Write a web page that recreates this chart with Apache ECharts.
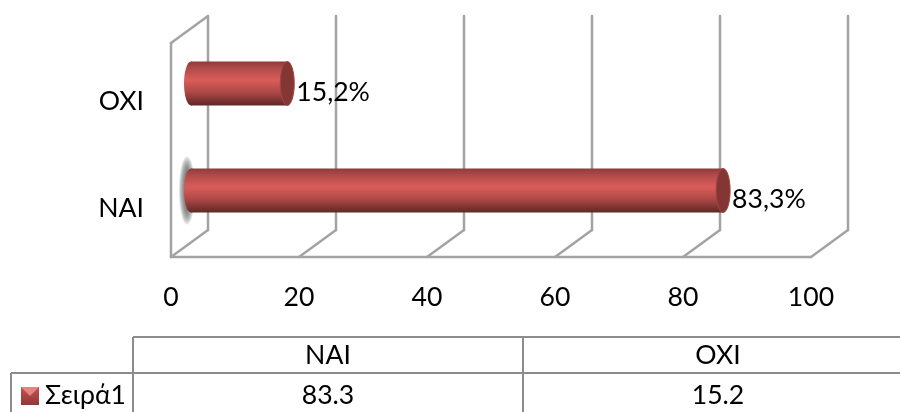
<!DOCTYPE html>
<html>
<head>
<meta charset="utf-8">
<style>
    html, body { margin: 0; padding: 0; background: #fff; }
    #main { width: 900px; height: 412px; }
</style>
<script src="https://cdn.jsdelivr.net/npm/echarts@6/dist/echarts.min.js"></script>
</head>
<body>
<div id="main"></div>
<script type="text/javascript">
    var categories = ['ΝΑΙ', 'ΟΧΙ'];
    var values = [83.3, 15.2];
    var labels = ['83,3%', '15,2%'];
    var xTicks = [0, 20, 40, 60, 80, 100];
    var seriesName = 'Σειρά1';

    var FONT = 'Lato, "Noto Sans", sans-serif';
    var FONT_SIZE = 26.6;
    var WALL = '#a3a3a3';
    var TABLE = '#8c8c8c';
    // 3d depth of the box, and how far the bars sit inside it
    var DEPTH_X = 37, DEPTH_Y = -27;
    var BAR_X = 18, BAR_Y = -13, BAR_H = 44;

    var barFill = new echarts.graphic.LinearGradient(0, 0, 0, 1, [
        { offset: 0, color: '#8b3b39' },
        { offset: 0.15, color: '#b04a48' },
        { offset: 0.42, color: '#d95d5a' },
        { offset: 0.7, color: '#ad4846' },
        { offset: 1, color: '#5f2726' }
    ]);

    function line(x1, y1, x2, y2) {
        return {
            type: 'line',
            shape: { x1: x1, y1: y1, x2: x2, y2: y2 },
            style: { stroke: WALL, lineWidth: 2.5, lineCap: 'round' }
        };
    }

    function renderWall(params, api) {
        var cs = params.coordSys;
        var x = api.coord([api.value(0), 0])[0];
        var top = cs.y, bottom = cs.y + cs.height;
        var children = [
            line(x, bottom, x + DEPTH_X, bottom + DEPTH_Y),
            line(x + DEPTH_X, bottom + DEPTH_Y, x + DEPTH_X, top + DEPTH_Y)
        ];
        if (params.dataIndex === 0) {
            children.push(line(x, bottom, x, top));
            children.push(line(x, top, x + DEPTH_X, top + DEPTH_Y));
            children.push(line(x, bottom, cs.x + cs.width, bottom));
        }
        return { type: 'group', children: children };
    }

    function renderBar(params, api) {
        var end = api.coord([api.value(0), api.value(1)]);
        var start = api.coord([0, api.value(1)]);
        var x0 = start[0] + BAR_X + 2;
        var x1 = end[0] + BAR_X + 1;
        var y = end[1] + BAR_Y;
        var children = [];
        if (params.dataIndex === 0) {
            // grey smudge behind the left end of the long bar, stacked ellipses fake the blur
            for (var k = 0; k < 8; k++) {
                children.push({
                    type: 'ellipse',
                    shape: { cx: x0 - 4, cy: y, rx: 8 - k * 0.8, ry: 34 - k * 2 },
                    style: { fill: 'rgba(90,90,90,0.16)' }
                });
            }
        }
        children.push({
            type: 'ellipse',
            shape: { cx: x0, cy: y, rx: 7, ry: BAR_H / 2 },
            style: { fill: barFill }
        });
        children.push({
            type: 'rect',
            shape: { x: x0, y: y - BAR_H / 2, width: x1 - x0, height: BAR_H },
            style: { fill: barFill }
        });
        children.push({
            type: 'ellipse',
            shape: { cx: x1, cy: y, rx: 7, ry: BAR_H / 2 },
            style: { fill: '#843635', stroke: '#a04644', lineWidth: 1 }
        });
        children.push({
            type: 'text',
            style: {
                x: x1 + 9, y: y + 9,
                text: labels[params.dataIndex],
                font: FONT_SIZE + 'px ' + FONT,
                fill: '#000',
                verticalAlign: 'middle'
            }
        });
        return { type: 'group', children: children };
    }

    // data table under the chart
    var TABLE_LEFT = 133, COL_W = 390, ROW1 = 337, ROW2 = 373, ROW3 = 413, LEGEND_LEFT = 11;

    function tableLine(x1, y1, x2, y2) {
        return {
            type: 'line',
            shape: { x1: x1, y1: y1, x2: x2, y2: y2 },
            style: { stroke: TABLE, lineWidth: 2 }
        };
    }

    function tableText(x, y, text, align) {
        return {
            type: 'text',
            style: {
                x: x, y: y, text: text,
                font: FONT_SIZE + 'px ' + FONT, fill: '#000',
                align: align || 'center', verticalAlign: 'middle'
            }
        };
    }

    var tableItems = [
        tableLine(TABLE_LEFT, ROW1, 900, ROW1),
        tableLine(LEGEND_LEFT, ROW2, 900, ROW2),
        tableLine(LEGEND_LEFT, ROW2, LEGEND_LEFT, ROW3),
        tableLine(TABLE_LEFT, ROW1, TABLE_LEFT, ROW3),
        {
            type: 'rect',
            shape: { x: 21, y: 387, width: 18, height: 18 },
            style: {
                fill: new echarts.graphic.LinearGradient(0, 0, 0, 1, [
                    { offset: 0, color: '#c9504e' },
                    { offset: 1, color: '#8b3b39' }
                ])
            }
        },
        {
            type: 'polygon',
            shape: { points: [[21, 387], [39, 387], [30, 396]] },
            style: { fill: '#e58480' }
        },
        tableText(45, 395, seriesName, 'left')
    ];
    categories.forEach(function (name, i) {
        var cx = TABLE_LEFT + COL_W * i + COL_W / 2;
        if (i > 0) {
            tableItems.push(tableLine(TABLE_LEFT + COL_W * i, ROW1, TABLE_LEFT + COL_W * i, ROW3));
        }
        tableItems.push(tableText(cx, 355, name));
        tableItems.push(tableText(cx, 395, String(values[i])));
    });

    var myChart = echarts.init(document.getElementById('main'));
    myChart.setOption({
        animation: false,
        backgroundColor: '#fff',
        grid: { left: 171, top: 43, width: 640, height: 214 },
        xAxis: {
            type: 'value',
            min: 0,
            max: 100,
            interval: 20,
            axisLine: { show: false },
            axisTick: { show: false },
            splitLine: { show: false },
            axisLabel: { fontFamily: FONT, fontSize: FONT_SIZE, color: '#000', margin: 27 }
        },
        yAxis: {
            type: 'category',
            data: categories,
            axisLine: { show: false },
            axisTick: { show: false },
            axisLabel: {
                margin: 27,
                formatter: '{cat|{value}}',
                rich: {
                    cat: { fontFamily: FONT, fontSize: FONT_SIZE, color: '#000', padding: [10, 0, 0, 0] }
                }
            }
        },
        series: [
            {
                type: 'custom',
                name: 'walls',
                clip: false,
                silent: true,
                z: 1,
                encode: { x: 0 },
                data: xTicks.map(function (v) { return [v]; }),
                renderItem: renderWall
            },
            {
                type: 'custom',
                name: seriesName,
                clip: false,
                z: 2,
                encode: { x: 0, y: 1 },
                data: values.map(function (v, i) { return [v, i]; }),
                renderItem: renderBar
            }
        ],
        graphic: { elements: tableItems }
    });
</script>
</body>
</html>
